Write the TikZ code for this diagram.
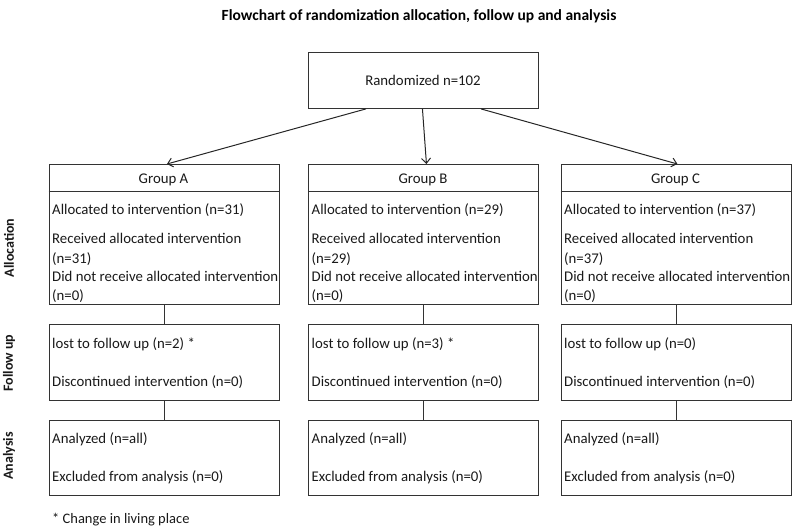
\documentclass[tikz,border=0pt]{standalone}
\usepackage{fontspec}
\setmainfont{Carlito}
\usetikzlibrary{arrows.meta}
\begin{document}
\begin{tikzpicture}[x=1pt,y=-1pt,
  box/.style={draw=black!80, line width=0.9pt, rectangle, minimum width=230pt, anchor=north west, inner sep=0pt},
  txt/.style={anchor=base west, inner sep=0pt, font=\fontsize{14.8}{17}\selectfont, text=black!90},
  ctxt/.style={anchor=base, inner sep=0pt, font=\fontsize{14.8}{17}\selectfont, text=black!90},
  side/.style={rotate=90, inner sep=0pt, font=\bfseries\fontsize{14}{17}\selectfont, text=black!90},
  link/.style={draw=black!80, line width=0.9pt},
  arr/.style={draw=black!85, line width=1pt, -{Straight Barb[length=5pt,width=9pt]}}]
\useasboundingbox (0,0) rectangle (792,528);
\node[anchor=base, inner sep=0pt, font=\bfseries\fontsize{15.5}{18}\selectfont] (title) at (419,20) {Flowchart of randomization allocation, follow up and analysis};
\node[box, minimum height=56pt] (rand) at (308,52) {};
\node[ctxt] (randtxt) at (423,85) {Randomized n=102};
\foreach \c/\xl/\na/\nl/\st in {A/48.5/31/2/1, B/308/29/3/1, C/560.5/37/0/0} {
  \node[box, minimum height=140pt] (alloc\c) at (\xl,164) {};
  \draw[link] (\xl,191) -- (\xl+230,191);
  \node[ctxt] (head\c) at (\xl+115,183.5) {Group \c};
  \begin{scope}
    \clip (\xl,164) rectangle (\xl+230,304);
    \node[txt] (al\c) at (\xl+3.5,214.5) {Allocated to intervention (n=\na)};
    \node[txt] (re\c) at (\xl+3.5,243.5) {Received allocated intervention};
    \node[txt] (ren\c) at (\xl+3.5,263.5) {(n=\na)};
    \node[txt] (dn\c) at (\xl+3.5,281.5) {Did not receive allocated intervention};
    \node[txt] (dnn\c) at (\xl+3.5,300.5) {(n=0)};
  \end{scope}
  \node[box, minimum height=76pt] (fu\c) at (\xl,324) {};
  \node[txt] (lo\c) at (\xl+3.5,348.5) {lost to follow up (n=\nl)\ifnum\st=1\ *\fi};
  \node[txt] (di\c) at (\xl+3.5,386.5) {Discontinued intervention (n=0)};
  \node[box, minimum height=75pt] (an\c) at (\xl,420) {};
  \node[txt] (az\c) at (\xl+3.5,443.5) {Analyzed (n=all)};
  \node[txt] (ex\c) at (\xl+3.5,481.5) {Excluded from analysis (n=0)};
  \draw[link] (alloc\c.south) -- (fu\c.north);
  \draw[link] (fu\c.south) -- (an\c.north);
}
\draw[arr] ([xshift=-57.5pt]rand.south) -- ([xshift=3pt]allocA.north);
\draw[arr] ([xshift=-1pt]rand.south) -- ([xshift=3pt]allocB.north);
\draw[arr] ([xshift=57.5pt]rand.south) -- ([xshift=1.5pt]allocC.north);
\node[side] (sAlloc) at (9,248) {Allocation};
\node[side] (sFollow) at (9,363) {Follow up};
\node[side] (sAna) at (9,456) {Analysis};
\node[anchor=base west, inner sep=0pt, font=\fontsize{14.5}{17}\selectfont, text=black!90] (foot) at (52,523.5) {* Change in living place};
\end{tikzpicture}
\end{document}
